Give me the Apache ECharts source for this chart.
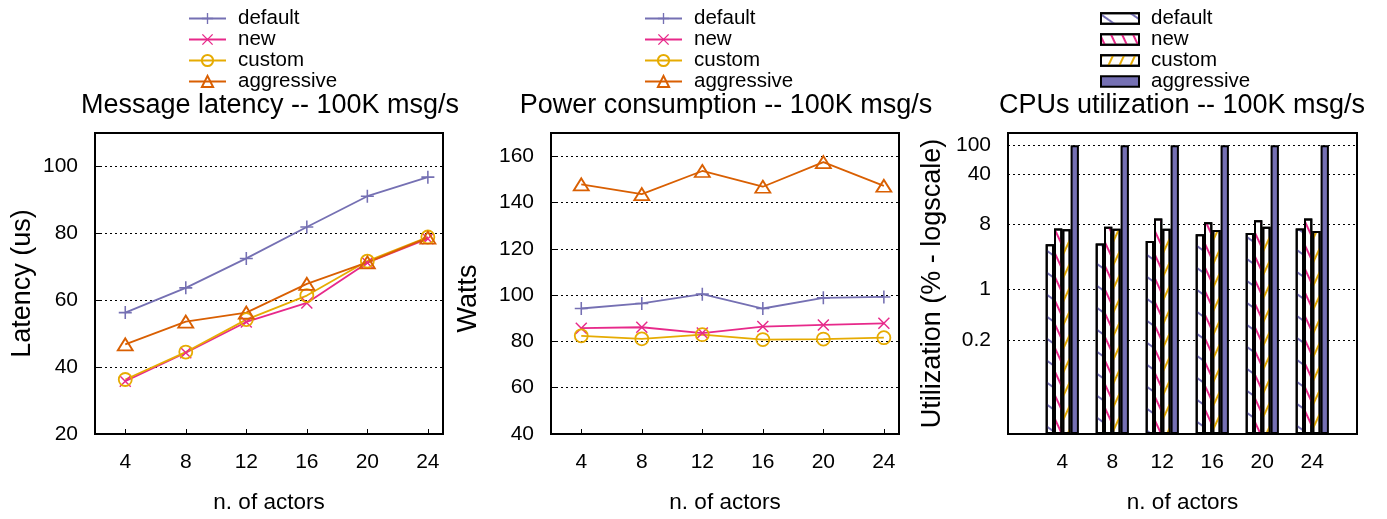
<!DOCTYPE html>
<html>
<head>
<meta charset="utf-8">
<script src="https://cdn.jsdelivr.net/npm/echarts@6/dist/echarts.min.js"></script>
<style>
  html, body { margin: 0; background: #fff; }
  #main { width: 1387px; height: 519px; }
</style>
</head>
<body>
<div id="main"></div>
<script>
// values
const actors = [4, 8, 12, 16, 20, 24];
const seriesNames = ['default', 'new', 'custom', 'aggressive'];

const latencyDefault = [56.3, 63.7, 72.5, 81.9, 91.1, 96.8];
const latencyNew = [35.8, 44.3, 53.5, 59.2, 71.2, 78.4];
const latencyCustom = [36.3, 44.5, 54.2, 61.4, 71.7, 78.9];
const latencyAggressive = [46.8, 53.6, 56.3, 64.9, 71.3, 78.7];

const wattsDefault = [94.2, 96.4, 100.4, 94.2, 98.8, 99.2];
const wattsNew = [85.7, 86.1, 83.6, 86.4, 87.1, 87.8];
const wattsCustom = [82.4, 81.1, 82.9, 80.8, 81.0, 81.6];
const wattsAggressive = [147.8, 143.6, 153.6, 146.8, 157.4, 147.2];

const cpuDefault = [4.25, 4.35, 4.72, 5.84, 6.08, 7.06];
const cpuNew = [7.06, 7.45, 9.69, 8.61, 9.18, 9.69];
const cpuCustom = [6.84, 7.0, 7.0, 6.68, 7.45, 6.48];
const cpuAggressive = [100, 100, 100, 100, 100, 100];

const latencyTicks = [20, 40, 60, 80, 100];
const wattsTicks = [40, 60, 80, 100, 120, 140, 160];
const cpuTicks = [0.2, 1, 8, 40, 100];

const FONT = 'Liberation Sans';
const colors = ['#7570b3', '#e7298a', '#e6ab02', '#d95f02'];
const PLUS = 'path://M4.4,0h1.2v10h-1.2zM0,4.4h10v1.2h-10z';
const CROSS = 'path://M0,0.85L0.85,0L10,9.15L9.15,10ZM9.15,0L10,0.85L0.85,10L0,9.15Z';
const markers = [
  { symbol: PLUS, size: 13, filled: true },
  { symbol: CROSS, size: 12, filled: true },
  { symbol: 'circle', size: 13 },
  { symbol: 'triangle', size: [15, 12] }
];
const deg = Math.PI / 180;
// hatch patterns of the bars: thin lines, "\" for default/new, "/" for custom
const decals = [
  { symbol: 'rect', symbolSize: 1, color: colors[0], dashArrayX: [1, 0], dashArrayY: [1.3, 16], rotation: 35 * deg },
  { symbol: 'rect', symbolSize: 1, color: colors[1], dashArrayX: [1, 0], dashArrayY: [1.3, 7.6], rotation: 65 * deg },
  { symbol: 'rect', symbolSize: 1, color: colors[2], dashArrayX: [1, 0], dashArrayY: [1.3, 7.6], rotation: -65 * deg },
  null
];

const txt = (size) => ({ fontFamily: FONT, fontSize: size, color: '#000' });

function lineSeries(k, values, g) {
  const m = markers[k];
  return {
    type: 'line',
    name: seriesNames[k] + '@' + g,
    xAxisIndex: g, yAxisIndex: g,
    data: actors.map((a, i) => [a, values[i]]),
    symbol: m.symbol, symbolSize: m.size,
    lineStyle: { color: colors[k], width: 1.8 },
    itemStyle: m.filled
      ? { color: colors[k] }
      : { color: 'rgba(255,255,255,0)', borderColor: colors[k], borderWidth: 1.8 },
    animation: false
  };
}

function barSeries(k, values) {
  const style = {
    color: k === 3 ? colors[0] : '#fff',
    borderColor: '#000',
    borderWidth: 2
  };
  if (decals[k]) style.decal = decals[k];
  return {
    type: 'bar',
    name: seriesNames[k] + '@2',
    xAxisIndex: 2, yAxisIndex: 2,
    data: values.map((v, i) => [i, v]),
    barWidth: 8.3,
    barGap: '0%',
    itemStyle: style,
    animation: false
  };
}

function lineXAxis(g) {
  return {
    gridIndex: g, type: 'value', min: 2, max: 25,
    axisLine: { show: false },
    axisTick: { inside: true, length: 5, customValues: actors, lineStyle: { color: '#000' } },
    axisLabel: { customValues: actors, margin: 18, ...txt(21) },
    splitLine: { show: false },
    name: 'n. of actors', nameLocation: 'middle', nameGap: 57, nameTextStyle: txt(22.5)
  };
}

function valueYAxis(g, min, max, ticks, name, gap, pad) {
  return {
    gridIndex: g, type: 'value', min: min, max: max,
    axisLine: { show: false },
    axisTick: { inside: true, length: 5, customValues: ticks, lineStyle: { color: '#000' } },
    axisLabel: { customValues: ticks, margin: 17, ...txt(21) },
    splitLine: { lineStyle: { color: '#000', type: [2, 3], width: 1 } },
    name: name, nameLocation: 'middle', nameRotate: 90, nameGap: gap,
    nameTextStyle: { ...txt(27), padding: pad || 0 }
  };
}

function legendFor(g, left, bars) {
  const l = {
    orient: 'vertical', left: left, top: 8, padding: 0,
    itemWidth: bars ? 38 : 37, itemHeight: bars ? 10.5 : 14,
    itemGap: 0,
    selectedMode: false,
    data: seriesNames.map(n => n + '@' + g),
    formatter: n => n.split('@')[0],
    textStyle: { ...txt(20.5), lineHeight: 20.7, padding: [0, 0, 0, 7] }
  };
  if (bars) {
    l.icon = 'rect';
    l.itemStyle = { borderColor: '#000', borderWidth: 2 };
  }
  return l;
}

const titleStyle = { ...txt(27), fontWeight: 'normal' };

const chart = echarts.init(document.getElementById('main'));
chart.setOption({
  backgroundColor: '#fff',
  animation: false,
  title: [
    { text: 'Message latency -- 100K msg/s', left: 270, top: 92, textAlign: 'center', padding: 0, textStyle: titleStyle },
    { text: 'Power consumption -- 100K msg/s', left: 726, top: 92, textAlign: 'center', padding: 0, textStyle: titleStyle },
    { text: 'CPUs utilization -- 100K msg/s', left: 1182, top: 92, textAlign: 'center', padding: 0, textStyle: titleStyle }
  ],
  legend: [legendFor(0, 188, false), legendFor(1, 644, false), legendFor(2, 1100, true)],
  grid: [
    { left: 95, top: 133, width: 348, height: 302, show: true, borderColor: '#000', borderWidth: 2 },
    { left: 551, top: 133, width: 348, height: 302, show: true, borderColor: '#000', borderWidth: 2 },
    { left: 1008, top: 133, width: 349, height: 303, show: true, borderColor: '#000', borderWidth: 2 }
  ],
  xAxis: [
    lineXAxis(0),
    lineXAxis(1),
    {
      gridIndex: 2, type: 'value', min: -1.086, max: 5.894,
      axisLine: { show: false },
      axisTick: { show: false },
      axisLabel: { customValues: [0, 1, 2, 3, 4, 5], formatter: v => actors[Math.round(v)], margin: 18, ...txt(21) },
      splitLine: { show: false },
      name: 'n. of actors', nameLocation: 'middle', nameGap: 57, nameTextStyle: txt(22.5)
    }
  ],
  yAxis: [
    valueYAxis(0, 20, 110, latencyTicks, 'Latency (us)', 59),
    valueYAxis(1, 40, 170, wattsTicks, 'Watts', 69, [0, 30, 0, 0]),
    {
      gridIndex: 2, type: 'log', logBase: 10, min: 0.01, max: 148, startValue: 0.01,
      axisLine: { show: false },
      axisTick: { show: false, customValues: cpuTicks },
      axisLabel: { customValues: cpuTicks, margin: 17, ...txt(21) },
      splitLine: { lineStyle: { color: '#000', type: [2, 3], width: 1 } },
      name: 'Utilization (% - logscale)', nameLocation: 'middle', nameRotate: 90, nameGap: 62, nameTextStyle: txt(27)
    }
  ],
  series: [
    lineSeries(0, latencyDefault, 0),
    lineSeries(1, latencyNew, 0),
    lineSeries(2, latencyCustom, 0),
    lineSeries(3, latencyAggressive, 0),
    lineSeries(0, wattsDefault, 1),
    lineSeries(1, wattsNew, 1),
    lineSeries(2, wattsCustom, 1),
    lineSeries(3, wattsAggressive, 1),
    barSeries(0, cpuDefault),
    barSeries(1, cpuNew),
    barSeries(2, cpuCustom),
    barSeries(3, cpuAggressive)
  ]
});
</script>
</body>
</html>
